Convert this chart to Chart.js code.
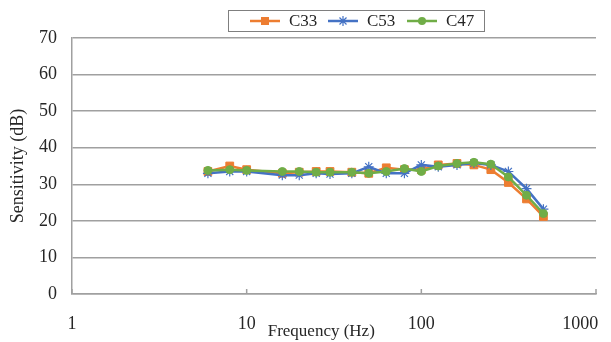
<!DOCTYPE html>
<html>
<head>
<meta charset="utf-8">
<script src="https://cdn.jsdelivr.net/npm/chart.js@4.4.0/dist/chart.umd.min.js"></script>
<style>
  html, body { margin: 0; padding: 0; background: #fff; }
</style>
</head>
<body>
<canvas id="sensChart" width="611" height="342"></canvas>
<script>
// data
const freqs = [6, 8, 10, 16, 20, 25, 30, 40, 50, 63, 80, 100, 125, 160, 200, 250, 315, 400, 500];
const seriesNames = ['C33', 'C53', 'C47'];
const c33 = [33.5, 35.0, 34.0, 33.0, 33.3, 33.5, 33.5, 33.3, 33.0, 34.5, 34.0, 34.0, 35.3, 35.7, 35.3, 34.0, 30.5, 26.0, 21.2];
const c53 = [33.0, 33.5, 33.5, 32.5, 32.5, 33.0, 32.8, 33.0, 34.8, 33.0, 33.0, 35.3, 34.8, 35.3, 35.8, 35.3, 33.5, 28.8, 23.2];
const c47 = [33.8, 34.0, 33.8, 33.5, 33.5, 33.3, 33.3, 33.3, 33.0, 33.5, 34.3, 33.5, 35.0, 35.7, 36.0, 35.5, 32.0, 27.0, 22.0];
const xTicks = [1, 10, 100, 1000];
const yMin = 0, yMax = 70, yStep = 10;

const colors = ['#ED7D31', '#4472C4', '#70AD47'];
const markers = ['rect', 'star', 'circle'];
const FONT = 'Liberation Serif, Times New Roman, serif';
const TEXT = '#262626';
const GRID = '#A0A0A0';

// legend drawn by hand: boxed, line + marker + name
function drawIcon(g, cx, cy, color, marker) {
    g.save();
    g.strokeStyle = color;
    g.fillStyle = color;
    g.lineWidth = 2.5;
    g.beginPath(); g.moveTo(cx - 15, cy); g.lineTo(cx + 15, cy); g.stroke();
    if (marker === 'rect') {
        g.fillRect(cx - 4, cy - 4, 8, 8);
    } else if (marker === 'circle') {
        g.beginPath(); g.arc(cx, cy, 4, 0, Math.PI * 2); g.fill();
    } else {
        g.lineWidth = 1.2;
        g.beginPath();
        g.moveTo(cx, cy - 5); g.lineTo(cx, cy + 5);
        g.moveTo(cx - 5, cy); g.lineTo(cx + 5, cy);
        g.moveTo(cx - 3.5, cy - 3.5); g.lineTo(cx + 3.5, cy + 3.5);
        g.moveTo(cx + 3.5, cy - 3.5); g.lineTo(cx - 3.5, cy + 3.5);
        g.stroke();
    }
    g.restore();
}

const extras = {
    id: 'extras',
    afterDraw(chart) {
        const ctx = chart.ctx;
        // legend box
        ctx.save();
        ctx.strokeStyle = '#7F7F7F';
        ctx.lineWidth = 1;
        ctx.strokeRect(228.5, 10.5, 256, 21);
        const iconX = [265, 343, 422];
        ctx.font = '17px ' + FONT;
        ctx.fillStyle = TEXT;
        ctx.textBaseline = 'middle';
        ctx.textAlign = 'left';
        chart.data.datasets.forEach((ds, i) => {
            drawIcon(ctx, iconX[i], 21, colors[i], markers[i]);
            ctx.fillText(ds.label, iconX[i] + 24, 22);
        });
        ctx.restore();

        // small tick marks pointing up into the plot
        const xs = chart.scales.x, area = chart.chartArea;
        ctx.save();
        ctx.strokeStyle = GRID;
        ctx.lineWidth = 1.5;
        xTicks.forEach(v => {
            let px = xs.getPixelForValue(v);
            ctx.beginPath();
            ctx.moveTo(px, area.bottom);
            ctx.lineTo(px, area.bottom - 5);
            ctx.stroke();
        });
        ctx.restore();
    }
};

function makeSet(name, values, i) {
    return {
        label: name,
        data: freqs.map((f, k) => ({ x: f, y: values[k] })),
        borderColor: colors[i],
        backgroundColor: colors[i],
        borderWidth: 2.5,
        pointStyle: markers[i],
        pointRadius: markers[i] === 'rect' ? 5.5 : (markers[i] === 'star' ? 5 : 4),
        pointBorderWidth: markers[i] === 'star' ? 1.2 : 1,
        tension: 0,
        order: 2 - i
    };
}

new Chart(document.getElementById('sensChart').getContext('2d'), {
    type: 'line',
    data: {
        datasets: [makeSet(seriesNames[0], c33, 0), makeSet(seriesNames[1], c53, 1), makeSet(seriesNames[2], c47, 2)]
    },
    options: {
        responsive: false,
        animation: false,
        layout: { padding: { top: 38, right: 15, left: 0, bottom: 0 } },
        plugins: {
            tooltip: { enabled: false },
            legend: { display: false }
        },
        scales: {
            x: {
                type: 'logarithmic',
                min: xTicks[0],
                max: xTicks[xTicks.length - 1],
                afterBuildTicks: s => { s.ticks = xTicks.map(v => ({ value: v })); },
                afterFit: s => { s.height = 48; s.paddingLeft = 0; s.paddingRight = 0; },
                ticks: {
                    autoSkip: false,
                    maxRotation: 0,
                    padding: 11,
                    color: TEXT,
                    font: { family: FONT, size: 18 },
                    // last label sits pulled in from the right edge
                    callback: v => v === 1000 ? '1000       ' : String(v)
                },
                grid: { display: false },
                border: { display: true, color: GRID, width: 1.5 },
                title: {
                    display: true,
                    text: 'Frequency (Hz)      ',
                    color: TEXT,
                    font: { family: FONT, size: 17 },
                    padding: { top: 0, bottom: 0 }
                }
            },
            y: {
                min: yMin,
                max: yMax,
                afterFit: s => { s.width = 72; },
                ticks: {
                    stepSize: yStep,
                    padding: 15,
                    color: TEXT,
                    font: { family: FONT, size: 18 }
                },
                grid: { color: GRID, lineWidth: 1.5, drawTicks: false },
                border: { display: true, color: GRID, width: 1.5 },
                title: {
                    display: true,
                    text: 'Sensitivity (dB)',
                    color: TEXT,
                    font: { family: FONT, size: 18 },
                    padding: { top: 7, bottom: 0 }
                }
            }
        }
    },
    plugins: [extras]
});
</script>
</body>
</html>
